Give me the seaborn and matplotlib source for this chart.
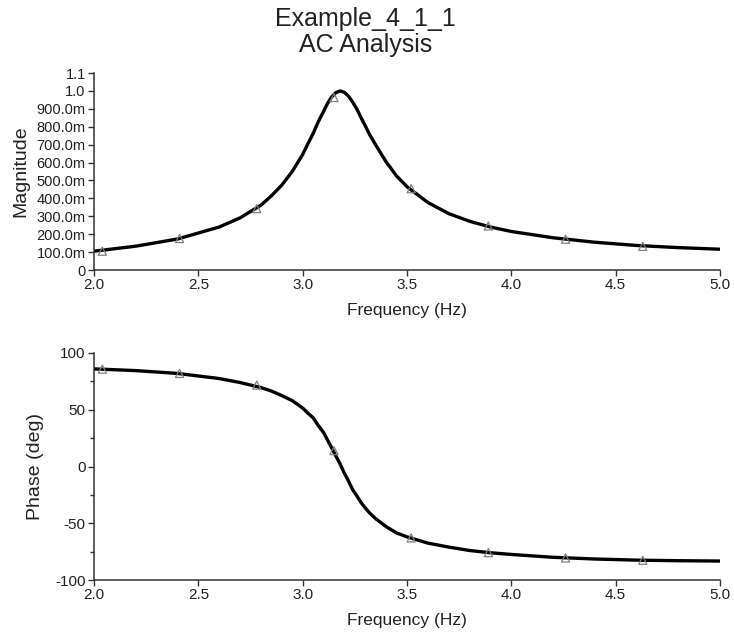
"""AC analysis plot (magnitude and phase) for Example_4_1_1."""

import matplotlib

matplotlib.use("Agg")
import matplotlib.pyplot as plt
import pandas as pd
import seaborn as sns

# values
freq = [2.0, 2.2, 2.4, 2.6, 2.7, 2.8, 2.85, 2.9, 2.95, 3.0, 3.025, 3.05,
        3.075, 3.1, 3.12, 3.14, 3.16, 3.18, 3.2, 3.22, 3.24, 3.26, 3.28, 3.3,
        3.32, 3.35, 3.4, 3.45, 3.5, 3.6, 3.7, 3.8, 3.9, 4.0, 4.2, 4.4, 4.6,
        4.8, 5.0]
magnitude = [0.105, 0.133, 0.173, 0.240, 0.291, 0.362, 0.414, 0.474, 0.550,
             0.645, 0.705, 0.762, 0.828, 0.885, 0.932, 0.968, 0.991, 1.0,
             0.992, 0.970, 0.937, 0.898, 0.850, 0.805, 0.758, 0.698, 0.604,
             0.525, 0.465, 0.377, 0.315, 0.272, 0.240, 0.215, 0.180, 0.155,
             0.137, 0.125, 0.116]
phase = [86.0, 84.5, 82.0, 77.5, 74.0, 69.5, 66.5, 62.5, 58.0, 51.5, 47.0,
         43.0, 36.0, 30.0, 23.0, 16.0, 9.0, 2.0, -6.0, -13.0, -20.5, -26.0,
         -31.8, -36.5, -40.8, -46.0, -53.0, -58.5, -62.0, -67.5, -71.0, -74.0,
         -76.0, -77.5, -80.0, -81.5, -82.5, -83.0, -83.3]

marker_freq = [2.04, 2.41, 2.78, 3.15, 3.52, 3.89, 4.26, 4.63]
marker_mag = [0.105, 0.176, 0.343, 0.963, 0.454, 0.246, 0.172, 0.132]
marker_phase = [85.8, 82.0, 71.7, 14.0, -62.9, -75.9, -80.6, -82.6]

x_ticks = [2.0, 2.5, 3.0, 3.5, 4.0, 4.5, 5.0]
mag_ticks = [0.0, 0.1, 0.2, 0.3, 0.4, 0.5, 0.6, 0.7, 0.8, 0.9, 1.0, 1.1]
mag_tick_labels = ["0", "100.0m", "200.0m", "300.0m", "400.0m", "500.0m",
                   "600.0m", "700.0m", "800.0m", "900.0m", "1.0", "1.1"]
phase_ticks = [-100, -50, 0, 50, 100]
phase_minor = [-75, -25, 25, 75]

sns.set_style("ticks")
plt.rcParams["font.family"] = ["Liberation Sans", "DejaVu Sans"]
plt.rcParams["text.color"] = "#222222"
plt.rcParams["axes.labelcolor"] = "#222222"
plt.rcParams["axes.unicode_minus"] = False

curve = pd.DataFrame({"freq": freq, "magnitude": magnitude, "phase": phase})
marks = pd.DataFrame({"freq": marker_freq, "magnitude": marker_mag, "phase": marker_phase})

W, H = 734, 643
left, right = 94, 720
fig = plt.figure(figsize=(W / 100, H / 100), dpi=100)
ax_mag = fig.add_axes([left / W, 1 - 270 / H, (right - left) / W, (270 - 73) / H])
ax_ph = fig.add_axes([left / W, 1 - 580 / H, (right - left) / W, (580 - 353) / H])

for ax, col in [(ax_mag, "magnitude"), (ax_ph, "phase")]:
    sns.lineplot(curve, x="freq", y=col, ax=ax, color="black", linewidth=2.4)
    sns.scatterplot(marks, x="freq", y=col, ax=ax, marker="^", s=34,
                    facecolor="none", edgecolor="#808080", linewidth=0.9, zorder=3)
    ax.set_xlim(2.0, 5.0)
    ax.set_xticks(x_ticks)
    ax.set_xticklabels([f"{t:.1f}" for t in x_ticks])
    ax.set_xlabel("Frequency (Hz)", fontsize=12.5, labelpad=8)
    for side in ["top", "right"]:
        ax.spines[side].set_visible(False)
    for side in ["left", "bottom"]:
        ax.spines[side].set_color("#333333")
        ax.spines[side].set_linewidth(1.1)
    ax.tick_params(which="both", direction="out", length=4, width=1,
                   color="#333333", labelsize=11, labelcolor="#222222", pad=2)

ax_mag.set_ylim(0, 1.1)
ax_mag.set_yticks(mag_ticks)
ax_mag.set_yticklabels(mag_tick_labels, fontsize=10.5)
ax_mag.set_ylabel("Magnitude", fontsize=14, labelpad=5)

ax_ph.set_ylim(-100, 100)
ax_ph.set_yticks(phase_ticks)
ax_ph.set_yticks(phase_minor, minor=True)
ax_ph.tick_params(axis="y", which="minor", length=3)
ax_ph.set_ylabel("Phase (deg)", fontsize=14, labelpad=8)

fig.text(0.498, 1 - 19 / H, "Example_4_1_1", ha="center", va="center", fontsize=18)
fig.text(0.498, 1 - 45 / H, "AC Analysis", ha="center", va="center", fontsize=18)

fig.savefig("out.png", dpi=100)
